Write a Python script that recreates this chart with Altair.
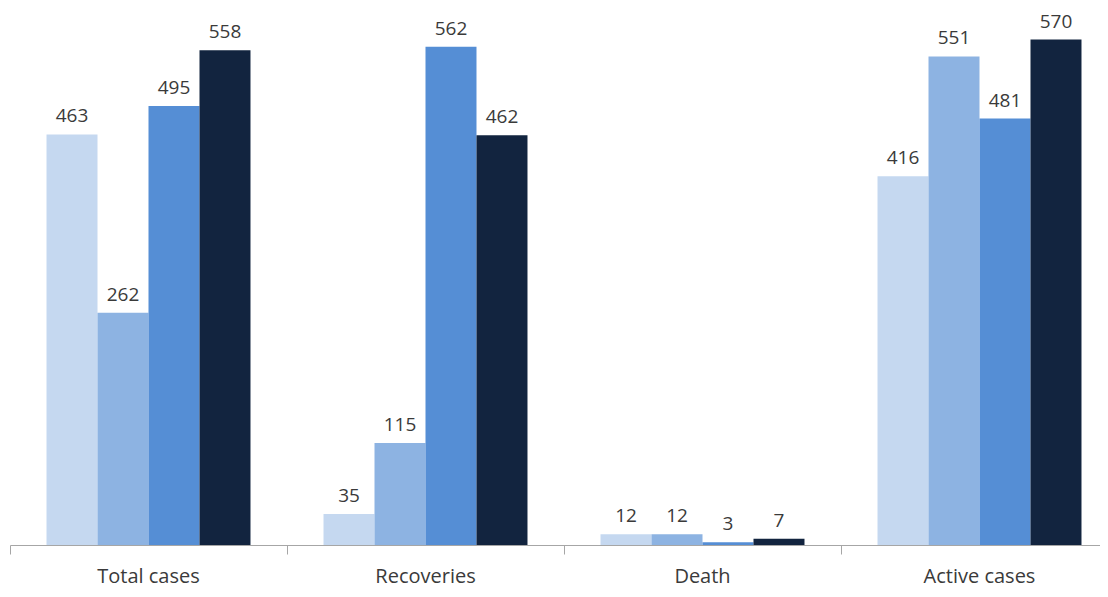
import altair as alt
import pandas as pd

categories = ["Total cases", "Recoveries", "Death", "Active cases"]
series = ["Series 1", "Series 2", "Series 3", "Series 4"]
values = {
    "Series 1": [463, 35, 12, 416],
    "Series 2": [262, 115, 12, 551],
    "Series 3": [495, 562, 3, 481],
    "Series 4": [558, 462, 7, 570],
}
colors = ["#c5d8f0", "#8db3e2", "#558ed5", "#12243f"]

rows = []
for s in series:
    for c, v in zip(categories, values[s]):
        rows.append({"category": c, "series": s, "value": v})
df = pd.DataFrame(rows)

font = "Open Sans"

base = alt.Chart(df).encode(
    x=alt.X("category:N", sort=categories,
            scale=alt.Scale(paddingInner=0, paddingOuter=0),
            axis=alt.Axis(title=None, labelAngle=0, bandPosition=0,
                          domainColor="#a6a6a6", tickColor="#a6a6a6",
                          tickSize=9, labelFontSize=20, labelFont=font,
                          labelColor="#3a3a3a", labelPadding=28,
                          labelBaseline="alphabetic",
                          labelBound=False)),
    xOffset=alt.XOffset("series:N", sort=series,
                        scale=alt.Scale(paddingInner=0, paddingOuter=0.716)),
    y=alt.Y("value:Q", scale=alt.Scale(domain=[0, 600], nice=False),
            axis=None),
)

bars = base.mark_bar().encode(
    color=alt.Color("series:N", sort=series,
                    scale=alt.Scale(domain=series, range=colors), legend=None)
)

labels = base.mark_text(baseline="alphabetic", dy=-12, fontSize=19, font=font,
                        color="#3a3a3a").encode(text="value:Q")

chart = (bars + labels).properties(
    width=1108, height=532,
    autosize=alt.AutoSizeParams(type="none"),
    padding={"left": 2, "top": 5, "right": -18, "bottom": 44},
).configure_view(stroke=None)

chart.save("out.html", embed_options={"renderer": "svg", "actions": False})
